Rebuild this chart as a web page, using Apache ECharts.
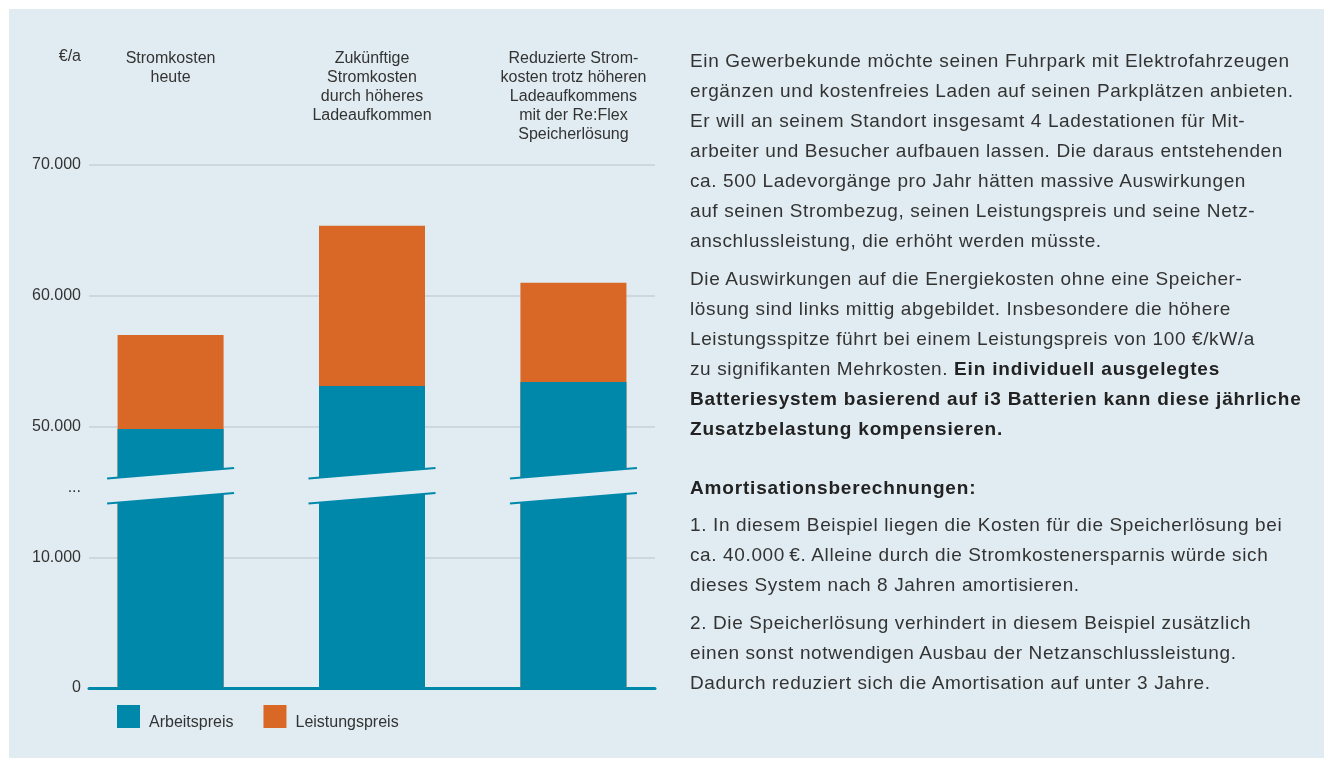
<!DOCTYPE html>
<html>
<head>
<meta charset="utf-8">
<script src="https://cdn.jsdelivr.net/npm/echarts@6/dist/echarts.min.js"></script>
<style>
  html, body { margin: 0; padding: 0; background: #ffffff; }
  #panel { position: absolute; left: 9px; top: 9px; width: 1315px; height: 749px; background: #e1ecf2; }
  #chart { position: absolute; left: 0; top: 0; width: 1324px; height: 758px; }
  #text { position: absolute; left: 690px; top: 45.7px; font-family: 'Liberation Sans', Arial, sans-serif;
          font-size: 19px; letter-spacing: 0.62px; line-height: 30px; color: #333; white-space: nowrap; }
  #text p { margin: 0; }
  #text b { color: #222; letter-spacing: 0.82px; }
</style>
</head>
<body>
<div id="panel"></div>
<div id="chart"></div>
<div id="text">
  <p>Ein Gewerbekunde möchte seinen Fuhrpark mit Elektrofahrzeugen<br>ergänzen und kostenfreies Laden auf seinen Parkplätzen anbieten.<br>Er will an seinem Standort insgesamt 4 Ladestationen für Mit-<br>arbeiter und Besucher aufbauen lassen. Die daraus entstehenden<br>ca. 500 Ladevorgänge pro Jahr hätten massive Auswirkungen<br>auf seinen Strombezug, seinen Leistungspreis und seine Netz-<br>anschlussleistung, die erhöht werden müsste.</p>
  <p style="margin-top:8.6px">Die Auswirkungen auf die Energiekosten ohne eine Speicher-<br>lösung sind links mittig abgebildet. Insbesondere die höhere<br>Leistungsspitze führt bei einem Leistungspreis von 100 €/kW/a<br>zu signifikanten Mehrkosten. <b>Ein individuell ausgelegtes</b><br><b>Batteriesystem basierend auf i3 Batterien kann diese jährliche</b><br><b>Zusatzbelastung kompensieren.</b></p>
  <p style="margin-top:28.4px"><b>Amortisationsberechnungen:</b></p>
  <p style="margin-top:7.3px">1. In diesem Beispiel liegen die Kosten für die Speicherlösung bei<br>ca. 40.000&#8201;€. Alleine durch die Stromkostenersparnis würde sich<br>dieses System nach 8 Jahren amortisieren.</p>
  <p style="margin-top:7.7px">2. Die Speicherlösung verhindert in diesem Beispiel zusätzlich<br>einen sonst notwendigen Ausbau der Netzanschlussleistung.<br>Dadurch reduziert sich die Amortisation auf unter 3 Jahre.</p>
</div>
<script>
// ---- data ----
const categories = ['Stromkosten\nheute', 'Zukünftige\nStromkosten\ndurch höheres\nLadeaufkommen', 'Reduzierte Strom-\nkosten trotz höheren\nLadeaufkommens\nmit der Re:Flex\nSpeicherlösung'];
const arbeitspreis = [49250, 53100, 53400];
const leistungspreis = [7750, 12250, 7600];
const tickValues = [0, 10000, 50000, 60000, 70000];
const tickLabels = ['0', '10.000', '50.000', '60.000', '70.000'];
const breakLabel = '...';
const unitLabel = '€/a';
const breakStart = 10000, breakEnd = 50000;

// broken-axis mapping: real value -> display value
function f(v) {
  if (v <= breakStart) return v / 10000;
  if (v < breakEnd) return 1 + (v - breakStart) / (breakEnd - breakStart);
  return 2 + (v - breakEnd) / 10000;
}
const BREAK_MID = 1.547;
const BREAK_LABEL_AT = 1.53;

const TEAL = '#0088ab', ORANGE = '#d96725', BG = '#e1ecf2', TXT = '#333333';
const FONT = "'Liberation Sans', Arial, sans-serif";

const xs = categories.map((c, i) => i);
const serA = arbeitspreis.map((v, i) => [i, f(v)]);
// Leistungspreis segment sits on top of Arbeitspreis: draw the full total behind the Arbeitspreis bar
const serTotal = leistungspreis.map((v, i) => [i, f(arbeitspreis[i] + v)]);

const labelMap = {};
tickValues.forEach((v, i) => { labelMap[f(v).toFixed(2)] = tickLabels[i]; });
labelMap[BREAK_LABEL_AT.toFixed(2)] = breakLabel;

const chart = echarts.init(document.getElementById('chart'), null, { renderer: 'canvas' });
chart.setOption({
  animation: false,
  textStyle: { fontFamily: FONT },
  grid: { left: 89, right: 669, top: 165, bottom: 70, containLabel: false },
  legend: {
    left: 117, top: 705, padding: 0, itemWidth: 23, itemHeight: 23, itemGap: 30, icon: 'rect',
    textStyle: { fontFamily: FONT, fontSize: 16, color: TXT },
    formatter: name => '{t|' + name + '}',
    data: ['Arbeitspreis', 'Leistungspreis']
  },
  graphic: [{
    type: 'text', right: 1243, top: 49,
    style: { text: unitLabel, font: "16px 'Liberation Sans', Arial, sans-serif", fill: TXT }
  }],
  xAxis: [{
    type: 'value', min: -0.405, max: 2.405, position: 'bottom',
    axisLine: { show: true, onZero: true, lineStyle: { color: TEAL, width: 3 } },
    axisTick: { show: false }, axisLabel: { show: false }, splitLine: { show: false }
  }, {
    type: 'value', min: -0.405, max: 2.405, position: 'top',
    axisLine: { show: false }, axisTick: { show: false }, splitLine: { show: false },
    axisLabel: {
      show: true, customValues: xs, verticalAlign: 'top', margin: 116.5,
      fontFamily: FONT, fontSize: 16, lineHeight: 19.2, color: TXT, align: 'center',
      formatter: v => categories[Math.round(v)]
    }
  }],
  yAxis: {
    type: 'value', min: 0, max: 4, interval: 1,
    axisLine: { show: false }, axisTick: { show: false },
    splitLine: { show: true, lineStyle: { color: '#cdd7dd', width: 2 } },
    axisLabel: {
      customValues: [0, 1, BREAK_LABEL_AT, 2, 3, 4], margin: 8,
      fontFamily: FONT, fontSize: 16, color: TXT, padding: [0, 0, 7, 0],
      formatter: v => labelMap[v.toFixed(2)] || ''
    }
  },
  series: [{
    name: 'Leistungspreis', type: 'bar', barWidth: 106, barGap: '-100%',
    itemStyle: { color: ORANGE }, data: serTotal
  }, {
    name: 'Arbeitspreis', type: 'bar', barWidth: 106, barGap: '-100%',
    itemStyle: { color: TEAL }, data: serA
  }, {
    name: 'break', type: 'custom', z: 10, silent: true,
    data: xs.map(i => [i, BREAK_MID]),
    renderItem: function (params, api) {
      const c = api.coord([api.value(0), api.value(1)]);
      const hw = 63.5, slope = 5.25, gap = 12.5;
      const ulL = [c[0] - hw, c[1] + slope - gap], ulR = [c[0] + hw, c[1] - slope - gap];
      const llL = [c[0] - hw, c[1] + slope + gap], llR = [c[0] + hw, c[1] - slope + gap];
      return {
        type: 'group', children: [
          { type: 'polygon', shape: { points: [ulL, ulR, llR, llL] }, style: { fill: BG } },
          { type: 'line', shape: { x1: ulL[0], y1: ulL[1], x2: ulR[0], y2: ulR[1] }, style: { stroke: TEAL, lineWidth: 2.2 } },
          { type: 'line', shape: { x1: llL[0], y1: llL[1], x2: llR[0], y2: llR[1] }, style: { stroke: TEAL, lineWidth: 2.2 } }
        ]
      };
    }
  }]
});
chart.setOption({
  legend: { textStyle: { rich: { t: { fontFamily: FONT, fontSize: 16, color: TXT, padding: [13, 0, 0, 4] } } } }
});
</script>
</body>
</html>
